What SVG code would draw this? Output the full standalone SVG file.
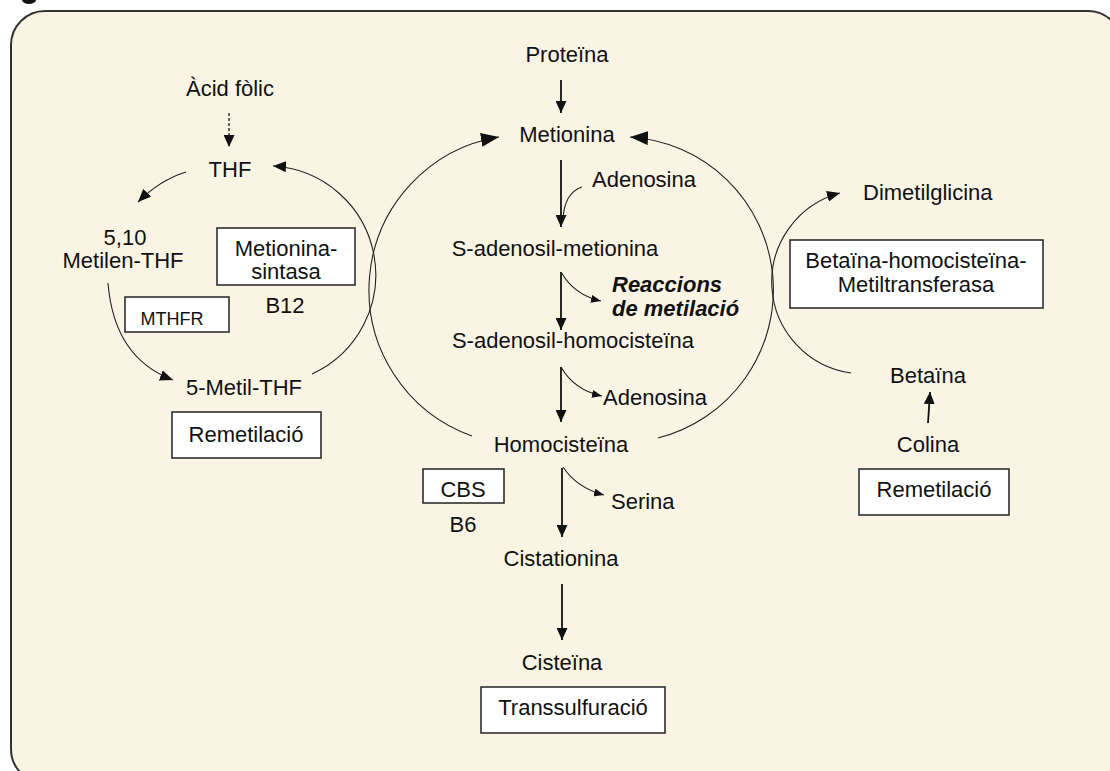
<svg xmlns="http://www.w3.org/2000/svg" width="1110" height="771" viewBox="0 0 1110 771">
<style>
text{font-family:"Liberation Sans",Arial,sans-serif;font-size:22px;fill:#111;text-anchor:middle}
.st{text-anchor:start}
.box{fill:#fff;stroke:#222;stroke-width:1.5}
.v{stroke:#111;stroke-width:1.8;fill:none}
.c{stroke:#222;stroke-width:1.1;fill:none}
.bi{font-weight:bold;font-style:italic}
</style>
<defs>
<marker id="ah" markerUnits="userSpaceOnUse" markerWidth="12" markerHeight="11" refX="12" refY="5.5" orient="auto"><path d="M0,0 L12,5.5 L0,11 z" fill="#111"/></marker>
<marker id="ahL" markerUnits="userSpaceOnUse" markerWidth="18" markerHeight="14" refX="18" refY="7" orient="auto"><path d="M0,0 L18,7 L0,14 z" fill="#111"/></marker>
<marker id="ahM" markerUnits="userSpaceOnUse" markerWidth="13" markerHeight="11" refX="13" refY="5.5" orient="auto"><path d="M0,0 L13,5.5 L0,11 z" fill="#111"/></marker>
<marker id="ahS" markerUnits="userSpaceOnUse" markerWidth="10" markerHeight="8" refX="10" refY="4" orient="auto"><path d="M0,0 L10,4 L0,8 z" fill="#111"/></marker>
</defs>
<rect x="0" y="0" width="1110" height="771" fill="#fff"/>
<ellipse cx="29" cy="0" rx="7" ry="4" fill="#111"/>
<rect x="11" y="11" width="1111" height="772" rx="34" fill="#FAF4E4" stroke="#333" stroke-width="2"/>

<g id="connectors">
<line class="v" x1="561" y1="80" x2="561" y2="113" marker-end="url(#ah)"/>
<line class="v" x1="561" y1="160" x2="561" y2="227" marker-end="url(#ah)"/>
<line class="v" x1="561" y1="272" x2="561" y2="330" marker-end="url(#ah)"/>
<line class="v" x1="561" y1="367" x2="561" y2="422" marker-end="url(#ah)"/>
<line class="v" x1="562" y1="468" x2="562" y2="537" marker-end="url(#ah)"/>
<line class="v" x1="562" y1="584" x2="562" y2="640" marker-end="url(#ah)"/>
<path class="c" d="M582,187 Q564,193 563,220"/>
<path class="c" d="M561,272 Q574,295 601,301" marker-end="url(#ahS)"/>
<path class="c" d="M561,367 Q574,390 602,396" marker-end="url(#ahS)"/>
<path class="c" d="M563,467 Q577,488 604,495" marker-end="url(#ahS)"/>
<path class="c" d="M472,436 A155,155 0 0,1 499,137" marker-end="url(#ahL)"/>
<path class="c" d="M658,438 A153,153 0 0,0 630,137" marker-end="url(#ahL)"/>
<path class="c" d="M312,374 A109,109 0 0,0 273,166" marker-end="url(#ahM)"/>
<path class="c" d="M186,172 Q160,180 138,202" marker-end="url(#ahM)"/>
<path class="c" d="M108,283 Q114,358 173,380" marker-end="url(#ahM)"/>
<line x1="229" y1="113" x2="229" y2="147" stroke="#111" stroke-width="1.3" stroke-dasharray="3,2" marker-end="url(#ah)"/>
<path class="c" d="M851,373 A92,92 0 0,1 840,193" marker-end="url(#ahM)"/>
<line class="v" x1="928" y1="423" x2="930" y2="392" marker-end="url(#ah)"/>
</g>

<g id="proteina"><text x="567" y="62">Proteïna</text></g>
<g id="metionina"><text x="567" y="142">Metionina</text></g>
<g id="adenosina1"><text class="st" x="592" y="187">Adenosina</text></g>
<g id="sam"><text x="555" y="256">S-adenosil-metionina</text></g>
<g id="reaccions"><text class="st bi" x="612" y="292">Reaccions</text><text class="st bi" x="612" y="316">de metilació</text></g>
<g id="sah"><text x="573" y="348">S-adenosil-homocisteïna</text></g>
<g id="adenosina2"><text class="st" x="603" y="405">Adenosina</text></g>
<g id="homocisteina"><text x="561" y="452">Homocisteïna</text></g>
<g id="serina"><text class="st" x="611" y="509">Serina</text></g>
<g id="cbs"><rect class="box" x="423" y="469" width="81" height="34"/><text x="463" y="497">CBS</text><text x="463" y="532">B6</text></g>
<g id="cistationina"><text x="561" y="566">Cistationina</text></g>
<g id="cisteina"><text x="562" y="670">Cisteïna</text></g>
<g id="transsulfuracio"><rect class="box" x="481" y="687" width="184" height="46"/><text x="573" y="715">Transsulfuració</text></g>

<g id="acid-folic"><text x="230" y="96">Àcid fòlic</text></g>
<g id="thf"><text x="230" y="177">THF</text></g>
<g id="metilen-thf"><text x="125" y="245">5,10</text><text x="123" y="268">Metilen-THF</text></g>
<g id="metionina-sintasa"><rect class="box" x="217" y="228" width="138" height="57"/><text x="286" y="256">Metionina-</text><text x="286" y="279">sintasa</text><text x="285" y="313">B12</text></g>
<g id="mthfr"><rect class="box" x="125" y="297" width="104" height="35"/><text x="172" y="325" style="font-size:18px">MTHFR</text></g>
<g id="metil-thf"><text x="244" y="395">5-Metil-THF</text></g>
<g id="remetilacio1"><rect class="box" x="172" y="412" width="149" height="46"/><text x="246" y="442">Remetilació</text></g>

<g id="dimetilglicina"><text class="st" x="863" y="200">Dimetilglicina</text></g>
<g id="bhmt"><rect class="box" x="790" y="240" width="253" height="68"/><text x="916" y="268">Betaïna-homocisteïna-</text><text x="916" y="292">Metiltransferasa</text></g>
<g id="betaina"><text x="928" y="383">Betaïna</text></g>
<g id="colina"><text x="928" y="452">Colina</text></g>
<g id="remetilacio2"><rect class="box" x="859" y="469" width="150" height="46"/><text x="934" y="497">Remetilació</text></g>
</svg>
